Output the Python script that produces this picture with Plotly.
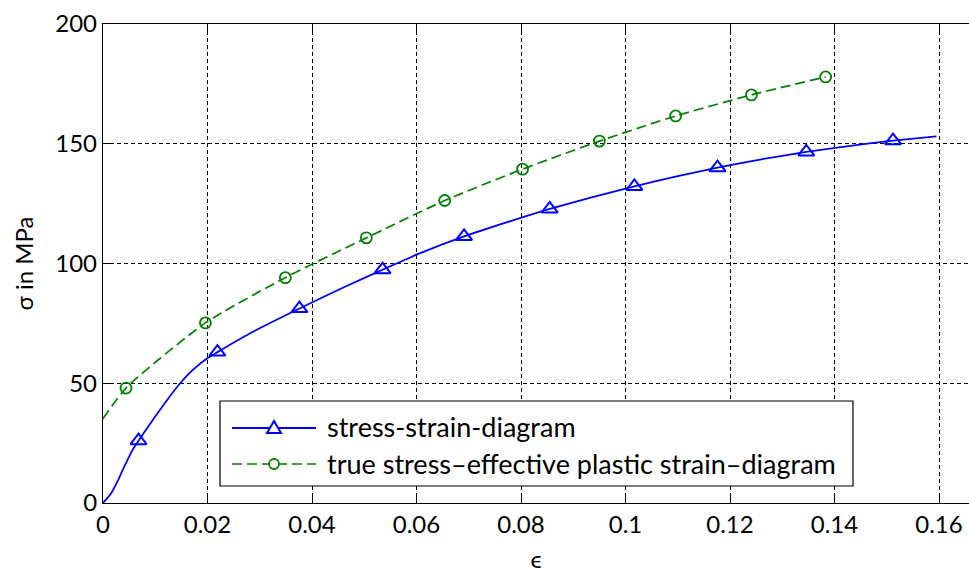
import plotly.graph_objects as go

# Engineering stress-strain curve (solid blue, triangle marks)
strain = [0, 0.0016, 0.0028, 0.0041, 0.0057, 0.0068, 0.0089, 0.0121, 0.0146, 0.0172,
          0.0201, 0.0219, 0.0280, 0.0376, 0.0460, 0.0535, 0.0606, 0.0691, 0.0780, 0.0855,
          0.0935, 0.1017, 0.1100, 0.1176, 0.1260, 0.1346, 0.1430, 0.1512, 0.1595]
stress = [0, 4.2, 9.1, 15.3, 22.3, 26.0, 32.7, 42.5, 49.6, 55.6,
          60.6, 63.0, 70.7, 81.2, 90.0, 97.4, 104.2, 111.3, 117.7, 122.8,
          127.6, 132.2, 136.5, 140.0, 143.5, 146.6, 149.1, 151.3, 153.1]
stress_marked = [False, False, False, False, False, True, False, False, False, False,
                 False, True, False, True, False, True, False, True, False, True,
                 False, True, False, True, False, True, False, True, False]

# True stress vs. effective plastic strain (dashed green, circle marks)
plastic_strain = [0, 0.0044, 0.0196, 0.0349, 0.0504, 0.0654, 0.0803, 0.0950, 0.1096, 0.1241, 0.1383]
true_stress = [35.2, 48.0, 75.2, 94.1, 110.7, 126.3, 139.4, 151.1, 161.6, 170.4, 177.9]
true_marked = [False] + [True] * 10

x_ticks = [0, 0.02, 0.04, 0.06, 0.08, 0.1, 0.12, 0.14, 0.16]
x_tick_labels = ["0", "0.02", "0.04", "0.06", "0.08", "0.1", "0.12", "0.14", "0.16"]
y_ticks = [0, 50, 100, 150, 200]
y_tick_labels = ["0", "50", "100", "150", "200"]

legend_labels = ["stress-strain-diagram", "true stress\u2013effective plastic strain\u2013diagram"]

BLUE = "#0000ff"
GREEN = "#008000"
FONT = "Lato, DejaVu Sans, sans-serif"

W, H = 969, 573
ML, MR, MT, MB = 103, 0, 24, 70
PW, PH = W - ML - MR, H - MT - MB


def px(x):
    return (x - ML) / PW


def py(y):
    return (H - MB - y) / PH


fig = go.Figure()

fig.add_trace(go.Scatter(
    x=strain, y=stress, mode="lines",
    line=dict(color=BLUE, width=1.8, shape="spline", smoothing=0.5),
    showlegend=False, hoverinfo="skip"))
fig.add_trace(go.Scatter(
    x=[e for e, m in zip(strain, stress_marked) if m],
    y=[s for s, m in zip(stress, stress_marked) if m],
    mode="markers",
    marker=dict(symbol="triangle-up-open", size=14, color=BLUE, line=dict(color=BLUE, width=2)),
    showlegend=False, cliponaxis=False))

fig.add_trace(go.Scatter(
    x=plastic_strain, y=true_stress, mode="lines",
    line=dict(color=GREEN, width=1.7, dash="10px,5px", shape="spline", smoothing=0.6),
    showlegend=False, hoverinfo="skip"))
fig.add_trace(go.Scatter(
    x=[e for e, m in zip(plastic_strain, true_marked) if m],
    y=[s for s, m in zip(true_stress, true_marked) if m],
    mode="markers",
    marker=dict(symbol="circle-open", size=11, color=GREEN, line=dict(color=GREEN, width=1.8)),
    showlegend=False, cliponaxis=False))

# Legend box drawn by hand so the line samples can be long
shapes = [
    dict(type="rect", xref="paper", yref="paper", x0=px(220), x1=px(853), y0=py(486), y1=py(401),
         line=dict(color="black", width=1.2), fillcolor="white", layer="above"),
    dict(type="line", xref="paper", yref="paper", x0=px(232), x1=px(316), y0=py(428), y1=py(428),
         line=dict(color=BLUE, width=1.8), layer="above"),
    dict(type="path", xref="paper", yref="paper", xsizemode="pixel", ysizemode="pixel",
         xanchor=px(274), yanchor=py(428), path="M -7 -5 L 7 -5 L 0 7 Z",
         line=dict(color=BLUE, width=2), fillcolor="white", layer="above"),
    dict(type="line", xref="paper", yref="paper", x0=px(232), x1=px(316), y0=py(464), y1=py(464),
         line=dict(color=GREEN, width=1.7, dash="10px,5px"), layer="above"),
    dict(type="circle", xref="paper", yref="paper", xsizemode="pixel", ysizemode="pixel",
         xanchor=px(274), yanchor=py(464), x0=-5, x1=5, y0=-5, y1=5,
         line=dict(color=GREEN, width=1.8), fillcolor="white", layer="above"),
]
annotations = [
    dict(xref="paper", yref="paper", x=px(325), y=py(427), text=legend_labels[0],
         xanchor="left", yanchor="middle", showarrow=False, font=dict(family=FONT, size=27, color="black")),
    dict(xref="paper", yref="paper", x=px(325), y=py(463), text=legend_labels[1],
         xanchor="left", yanchor="middle", showarrow=False, font=dict(family=FONT, size=27, color="black")),
]

axis_common = dict(
    showline=True, linecolor="black", linewidth=1.3,
    ticks="inside", ticklen=10, tickcolor="black", tickwidth=1,
    showgrid=True, gridcolor="black", gridwidth=1, griddash="4px,3px",
    zeroline=False, tickfont=dict(family=FONT, size=24, color="black"),
)

fig.update_layout(
    width=W, height=H,
    margin=dict(l=ML, r=MR, t=MT, b=MB, pad=0),
    paper_bgcolor="white", plot_bgcolor="white",
    shapes=shapes, annotations=annotations,
    xaxis=dict(range=[0, PW / 5225], tickvals=x_ticks, ticktext=x_tick_labels, mirror="ticks",
               title=dict(text="\u03f5", font=dict(family=FONT, size=24, color="black"), standoff=16),
               **axis_common),
    yaxis=dict(range=[0, 200], tickvals=y_ticks, ticktext=y_tick_labels, mirror=False,
               title=dict(text="\u03c3 in MPa", font=dict(family=FONT, size=24, color="black"), standoff=14),
               **axis_common),
)

fig.write_html("out.html")
